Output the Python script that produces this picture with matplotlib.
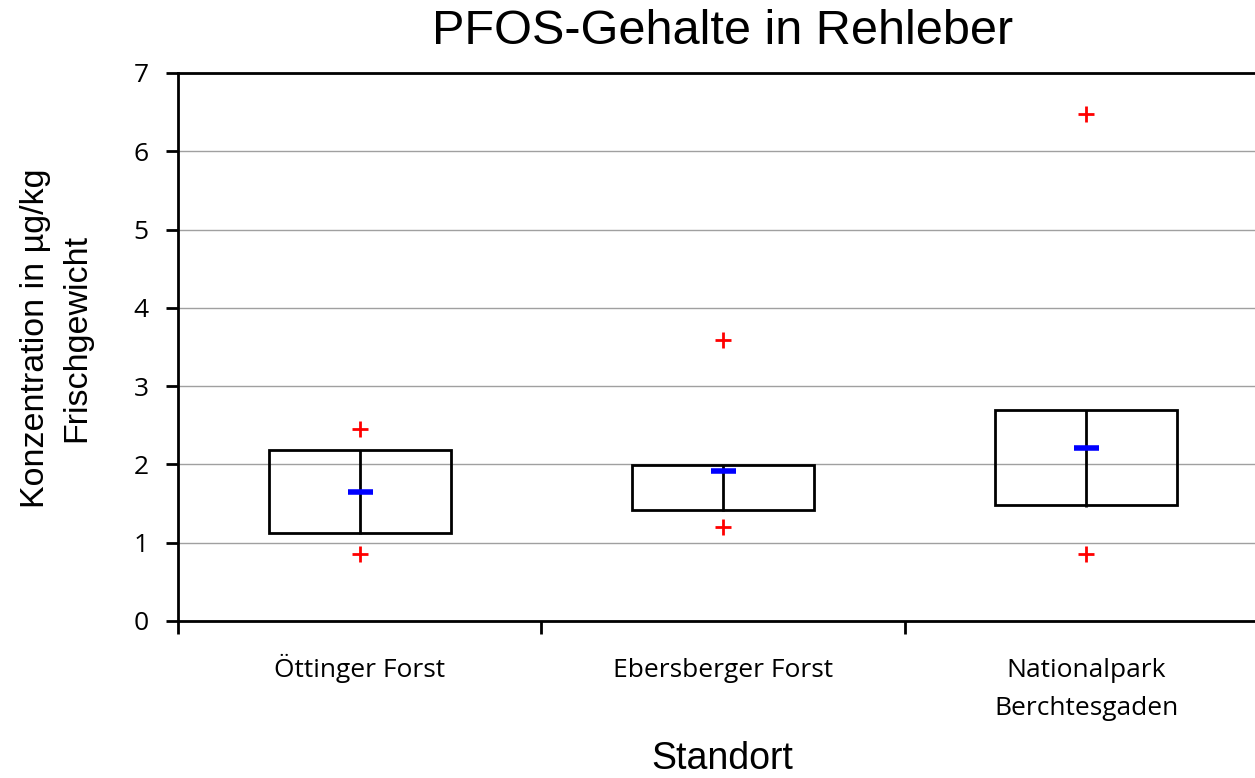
import numpy as np
import matplotlib
matplotlib.use("Agg")
from matplotlib import pyplot as plt
from matplotlib import transforms

# Werte (µg/kg Frischgewicht)
standorte = ["Öttinger Forst", "Ebersberger Forst", "Nationalpark\nBerchtesgaden"]
q1 = [1.13, 1.42, 1.48]
q3 = [2.19, 1.99, 2.69]
median = [1.65, 1.91, 2.21]
minimum = [0.85, 1.20, 0.85]
maximum = [2.45, 3.59, 6.47]

x = np.arange(len(standorte))
q1 = np.array(q1)
q3 = np.array(q3)

W, H = 1255, 778
fig = plt.figure(figsize=(W / 100, H / 100), dpi=100)
ax = fig.add_axes([178 / W, 1 - 621 / H, 1090 / W, 548 / H])

ax.bar(x, q3 - q1, bottom=q1, width=0.5, fill=False, edgecolor="black", linewidth=2, zorder=3)
ax.vlines(x, q1 - 0.02, q3, color="black", linewidth=2, zorder=3)
ax.plot(x, median, linestyle="none", marker="_", markersize=18, markeredgewidth=4, color="blue", zorder=4)
ax.plot(x, minimum, linestyle="none", marker="+", markersize=12, markeredgewidth=2, color="red", zorder=4)
ax.plot(x, maximum, linestyle="none", marker="+", markersize=12, markeredgewidth=2, color="red", zorder=4)

ax.set_xlim(-0.5, 2.5)
ax.set_ylim(0, 7)
ax.set_yticks(range(8))
ax.yaxis.grid(True, color="#a0a0a0", linewidth=1)
ax.set_axisbelow(True)

# Kategorien als Text, Grundlinie der ersten Zeile auf gleicher Höhe
ax.set_xticks(x)
ax.set_xticklabels([])
ax.tick_params(axis="x", which="major", length=0)
ax.set_xticks([-0.5, 0.5, 1.5], minor=True)
ax.tick_params(axis="x", which="minor", length=9, width=2, direction="out")
trans = transforms.blended_transform_factory(ax.transData, fig.transFigure)
for xi, name in zip(x, standorte):
    lines = name.split("\n")
    for j, line in enumerate(lines):
        ax.text(xi, 1 - (677 + 38 * j) / H, line, transform=trans, ha="center", va="baseline",
                fontfamily="Open Sans", fontsize=19)

ax.tick_params(axis="y", length=9, width=2, direction="out", pad=12)
for lab in ax.get_yticklabels():
    lab.set_fontfamily("Open Sans")
    lab.set_fontsize(19)

for s in ["left", "bottom", "top"]:
    ax.spines[s].set_linewidth(2)
ax.spines["right"].set_visible(False)

ax.set_title("PFOS-Gehalte in Rehleber", fontfamily="Liberation Sans", fontsize=35, pad=21)
fig.text(722 / W, 1 - 769 / H, "Standort", ha="center", va="baseline",
         fontfamily="Liberation Sans", fontsize=27)
fig.text(56 / W, 1 - 338 / H, "Konzentration in µg/kg\nFrischgewicht", rotation=90,
         ha="center", va="center", multialignment="center",
         fontfamily="Liberation Sans", fontsize=24.5, linespacing=1.4)

fig.savefig("out.png", dpi=100)
